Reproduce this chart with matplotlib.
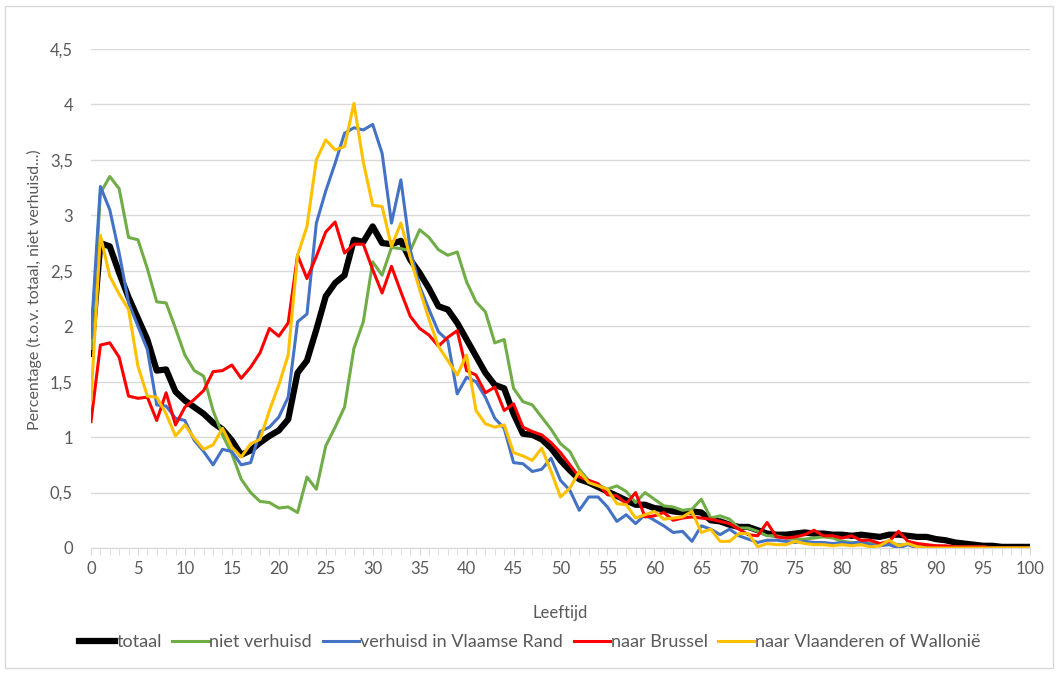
import numpy as np
import matplotlib
matplotlib.use('Agg')
import matplotlib.pyplot as plt
from matplotlib.patches import Rectangle

plt.rcParams['font.family'] = ['Lato', 'DejaVu Sans']

# leeftijd 0..100
ages = list(range(0, 101))

totaal = [1.75, 2.75, 2.72, 2.48, 2.26, 2.07, 1.88, 1.60, 1.61, 1.41,
          1.33, 1.27, 1.21, 1.13, 1.07, 0.97, 0.84, 0.88, 0.95, 1.01,
          1.06, 1.16, 1.58, 1.69, 1.97, 2.27, 2.39, 2.46, 2.78, 2.76,
          2.90, 2.75, 2.74, 2.77, 2.60, 2.48, 2.34, 2.18, 2.15, 2.03,
          1.88, 1.73, 1.58, 1.47, 1.44, 1.21, 1.03, 1.02, 0.98, 0.90,
          0.79, 0.70, 0.62, 0.59, 0.55, 0.51, 0.47, 0.43, 0.39, 0.39,
          0.36, 0.35, 0.33, 0.32, 0.33, 0.32, 0.25, 0.24, 0.21, 0.19,
          0.19, 0.16, 0.13, 0.12, 0.12, 0.13, 0.14, 0.13, 0.13, 0.12,
          0.12, 0.11, 0.12, 0.11, 0.10, 0.12, 0.12, 0.11, 0.10, 0.10,
          0.08, 0.07, 0.05, 0.04, 0.03, 0.02, 0.02, 0.01, 0.01, 0.01,
          0.01]

niet_verhuisd = [1.80, 3.20, 3.35, 3.24, 2.80, 2.78, 2.52, 2.22, 2.21, 1.98,
                 1.74, 1.60, 1.55, 1.24, 1.02, 0.85, 0.62, 0.50, 0.42, 0.41,
                 0.36, 0.37, 0.32, 0.64, 0.53, 0.92, 1.09, 1.27, 1.80, 2.04,
                 2.58, 2.46, 2.71, 2.70, 2.68, 2.87, 2.80, 2.69, 2.64, 2.67,
                 2.40, 2.22, 2.13, 1.85, 1.88, 1.44, 1.32, 1.29, 1.18, 1.07,
                 0.94, 0.87, 0.71, 0.61, 0.57, 0.53, 0.56, 0.51, 0.41, 0.50,
                 0.44, 0.38, 0.37, 0.34, 0.35, 0.44, 0.27, 0.29, 0.26, 0.18,
                 0.18, 0.15, 0.11, 0.11, 0.09, 0.08, 0.08, 0.09, 0.10, 0.09,
                 0.06, 0.05, 0.05, 0.04, 0.04, 0.04, 0.03, 0.03, 0.02, 0.02,
                 0.02, 0.01, 0.01, 0.01, 0.01, 0.01, 0.00, 0.00, 0.00, 0.00,
                 0.00]

vlaamse_rand = [1.90, 3.26, 3.05, 2.66, 2.21, 2.00, 1.79, 1.29, 1.28, 1.17,
                1.15, 0.97, 0.87, 0.75, 0.89, 0.87, 0.75, 0.77, 1.05, 1.09,
                1.18, 1.36, 2.04, 2.11, 2.93, 3.22, 3.47, 3.74, 3.79, 3.77,
                3.82, 3.56, 2.93, 3.32, 2.69, 2.36, 2.15, 1.95, 1.87, 1.39,
                1.54, 1.50, 1.36, 1.17, 1.08, 0.77, 0.76, 0.69, 0.71, 0.81,
                0.61, 0.52, 0.34, 0.46, 0.46, 0.37, 0.24, 0.30, 0.22, 0.30,
                0.25, 0.20, 0.14, 0.15, 0.06, 0.20, 0.17, 0.12, 0.17, 0.11,
                0.08, 0.05, 0.07, 0.07, 0.06, 0.05, 0.06, 0.05, 0.05, 0.04,
                0.05, 0.04, 0.06, 0.03, 0.02, 0.03, 0.00, 0.03, 0.00, 0.00,
                0.00, 0.00, 0.00, 0.00, 0.00, 0.00, 0.00, 0.00, 0.00, 0.00,
                0.00]

brussel = [1.14, 1.83, 1.85, 1.72, 1.37, 1.35, 1.36, 1.15, 1.40, 1.11,
           1.27, 1.34, 1.42, 1.59, 1.60, 1.65, 1.53, 1.63, 1.76, 1.98,
           1.91, 2.03, 2.64, 2.43, 2.63, 2.85, 2.94, 2.66, 2.74, 2.74,
           2.51, 2.30, 2.54, 2.31, 2.09, 1.98, 1.92, 1.82, 1.90, 1.96,
           1.60, 1.56, 1.40, 1.45, 1.24, 1.30, 1.09, 1.05, 1.02, 0.95,
           0.86, 0.75, 0.64, 0.61, 0.58, 0.48, 0.47, 0.40, 0.50, 0.28,
           0.29, 0.32, 0.25, 0.27, 0.28, 0.27, 0.26, 0.24, 0.22, 0.17,
           0.12, 0.11, 0.23, 0.10, 0.09, 0.10, 0.12, 0.16, 0.11, 0.11,
           0.09, 0.11, 0.07, 0.07, 0.04, 0.06, 0.15, 0.06, 0.04, 0.03,
           0.02, 0.02, 0.01, 0.01, 0.01, 0.01, 0.00, 0.00, 0.00, 0.00,
           0.00]

vl_wal = [1.33, 2.82, 2.45, 2.29, 2.15, 1.64, 1.37, 1.36, 1.21, 1.01,
          1.11, 0.99, 0.89, 0.93, 1.08, 0.91, 0.82, 0.94, 0.98, 1.24,
          1.47, 1.74, 2.64, 2.90, 3.50, 3.68, 3.59, 3.62, 4.01, 3.48,
          3.09, 3.08, 2.72, 2.93, 2.62, 2.33, 2.06, 1.82, 1.69, 1.56,
          1.74, 1.24, 1.12, 1.09, 1.11, 0.86, 0.83, 0.79, 0.90, 0.69,
          0.46, 0.54, 0.69, 0.59, 0.56, 0.53, 0.40, 0.39, 0.27, 0.30,
          0.33, 0.26, 0.27, 0.28, 0.33, 0.14, 0.17, 0.06, 0.06, 0.13,
          0.13, 0.01, 0.04, 0.03, 0.03, 0.06, 0.04, 0.03, 0.03, 0.02,
          0.03, 0.02, 0.03, 0.01, 0.02, 0.07, 0.02, 0.04, 0.01, 0.00,
          0.00, 0.00, 0.00, 0.00, 0.00, 0.00, 0.00, 0.00, 0.00, 0.00,
          0.00]

y_ticks = [0, 0.5, 1, 1.5, 2, 2.5, 3, 3.5, 4, 4.5]
y_labels = ['0', '0,5', '1', '1,5', '2', '2,5', '3', '3,5', '4', '4,5']
x_ticks = list(range(0, 101, 5))

fig = plt.figure(figsize=(10.6, 6.74), dpi=100)
ax = fig.add_axes([91 / 1060, 1 - 548 / 674, (1030 - 91) / 1060, (548 - 49) / 674])

# rand rond de grafiek
fig.patches.append(Rectangle((5 / 1060, 6 / 674), 1048 / 1060, 662 / 674,
                             transform=fig.transFigure, fill=False,
                             edgecolor='#D9D9D9', linewidth=1))

ax.plot(ages, totaal, color='black', linewidth=4.5, label='totaal', solid_joinstyle='round')
ax.plot(ages, niet_verhuisd, color='#70AD47', linewidth=2.2, label='niet verhuisd')
ax.plot(ages, vlaamse_rand, color='#4472C4', linewidth=2.2, label='verhuisd in Vlaamse Rand')
ax.plot(ages, brussel, color='#FF0000', linewidth=2.2, label='naar Brussel')
ax.plot(ages, vl_wal, color='#FFC000', linewidth=2.2, label='naar Vlaanderen of Wallonië')

ax.set_xlim(0, 100)
ax.set_ylim(0, 4.5)
ax.set_yticks(y_ticks)
ax.set_yticklabels(y_labels)
ax.set_xticks(x_ticks)
ax.set_xticks(ages, minor=True)
ax.grid(axis='y', color='#D9D9D9', linewidth=1)
ax.set_axisbelow(True)

for s in ['top', 'right', 'left']:
    ax.spines[s].set_visible(False)
ax.spines['bottom'].set_color('#D9D9D9')

ax.tick_params(axis='y', length=0, labelsize=12, labelcolor='#595959', pad=13)
ax.tick_params(axis='x', which='major', length=5, color='#D9D9D9', labelsize=12,
               labelcolor='#595959', pad=4)
ax.tick_params(axis='x', which='minor', length=5, color='#D9D9D9')

ax.set_xlabel('Leeftijd', fontsize=12, color='#595959')
ax.xaxis.set_label_coords(0.5, -0.114)
ax.set_ylabel('Percentage (t.o.v. totaal, niet verhuisd...)', fontsize=11.5,
              color='#595959')
ax.yaxis.set_label_coords(-0.052, 0.517)

leg = ax.legend(loc='center', bbox_to_anchor=(0.5, 1 - 642 / 674),
                bbox_transform=fig.transFigure, ncol=5, frameon=False,
                fontsize=13, handlelength=2.0, handletextpad=0.05,
                columnspacing=0.6, labelcolor='#595959')

fig.savefig('out.png', dpi=100)
